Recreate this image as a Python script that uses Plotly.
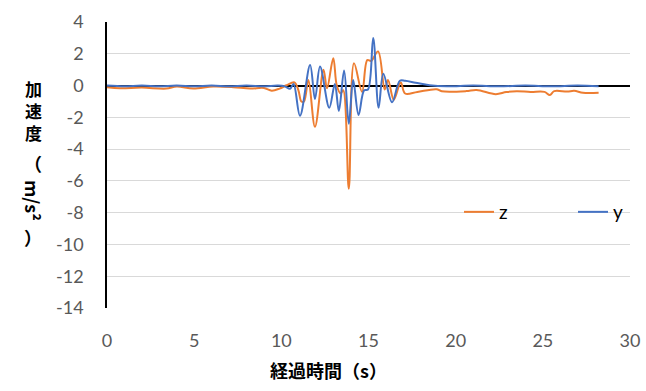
import plotly.graph_objects as go

# Time (s) and acceleration (m/s^2)
t_z = [0, 0.75, 2.0, 3.4, 4.0, 4.95, 6.1, 7.25, 8.2, 9.0, 9.45, 9.9, 10.3, 10.75, 10.98,
       11.15, 11.3, 11.55, 11.93, 12.42, 12.62, 12.98, 13.18, 13.4, 13.55, 13.87, 14.17,
       14.63, 14.93, 15.15, 15.55, 15.93, 16.12, 16.45, 16.85, 17.1, 17.8, 18.9, 19.2,
       20.6, 21.2, 22.3, 22.9, 23.5, 24.3, 25.1, 25.4, 25.65, 26.4, 26.8, 27.3, 28.2]
z_vals = [-0.1, -0.17, -0.13, -0.19, -0.06, -0.19, -0.06, -0.1, -0.19, -0.15, -0.32, -0.19,
          0.02, 0.2, -0.3, -1.0, -1.0, 0.35, -2.6, 1.0, -0.17, 1.72, 0.0, -0.5, -0.3, -6.5,
          1.4, -0.4, 1.6, 1.55, 2.15, -0.25, 0.35, -0.9, 0.2, -0.5, -0.4, -0.23, -0.36,
          -0.35, -0.28, -0.54, -0.41, -0.36, -0.4, -0.4, -0.6, -0.35, -0.38, -0.33, -0.45, -0.45]

t_y = [0, 1, 2, 3, 4, 5, 6, 7, 8, 9, 9.8, 10.2, 10.5, 10.7, 11.07, 11.65, 11.93, 12.22,
       12.75, 13.07, 13.3, 13.6, 13.87, 14.12, 14.43, 14.75, 14.97, 15.27, 15.58, 15.85,
       16.35, 16.8, 17.1, 17.7, 18.5, 19.5, 21, 22.5, 24, 25.5, 27, 28.2]
y_vals = [0, -0.05, 0, -0.05, 0, -0.05, 0, -0.05, 0, -0.05, 0, -0.05, -0.2, 0.1, -1.9, 1.3,
          -0.85, 1.2, -1.4, 0.1, -1.6, 0.95, -2.4, 0.35, -1.85, -0.3, -0.25, 3.0, -1.4, 0.75,
          -1.05, 0.3, 0.3, 0.18, 0.02, -0.05, 0, -0.05, 0, -0.05, 0, -0.05]

x_ticks = [0, 5, 10, 15, 20, 25, 30]
x_tick_labels = ["0", "5", "10", "15", "20", "25", "30"]
y_ticks = [4, 2, 0, -2, -4, -6, -8, -10, -12, -14]
y_tick_labels = ["4", "2", "0", "-2", "-4", "-6", "-8", "-10", "-12", "-14"]

fig = go.Figure()
fig.add_trace(go.Scatter(x=t_z, y=z_vals, name="z", mode="lines",
                         line=dict(color="#ED7D31", width=2, shape="spline", smoothing=1.0)))
fig.add_trace(go.Scatter(x=t_y, y=y_vals, name="y", mode="lines",
                         line=dict(color="#4472C4", width=2, shape="spline", smoothing=1.0)))

tick_font = dict(family="Lato, Open Sans, sans-serif", size=18, color="#595959")
cjk = "Noto Sans CJK JP, sans-serif"

L, R, T, B = 107, 16, 22, 83
PW, PH = 646 - L - R, 391 - T - B


def px(xp):
    return (xp - L) / PW


def py(yp):
    return (391 - B - yp) / PH


def label(text, xp, yp, angle=0, size=18):
    return dict(text=text, xref="paper", yref="paper", x=px(xp), y=py(yp),
                xanchor="center", yanchor="middle", showarrow=False, textangle=angle,
                font=dict(family=cjk, size=size, color="black"))


fig.update_layout(
    width=646, height=391,
    margin=dict(l=L, r=R, t=T, b=B, autoexpand=False),
    paper_bgcolor="white", plot_bgcolor="white",
    showlegend=True,
    legend=dict(orientation="h", x=px(459), y=py(212), xanchor="left", yanchor="middle",
                bgcolor="rgba(0,0,0,0)", entrywidth=69, entrywidthmode="pixels",
                font=dict(family="Lato, sans-serif", size=19, color="black"),
                itemwidth=30),
    xaxis=dict(range=[0, 30], tickvals=x_ticks, ticktext=x_tick_labels, showgrid=False,
               zeroline=False, showline=False, ticks="", tickfont=tick_font,
               ticklabelstandoff=20, fixedrange=True, automargin=False),
    yaxis=dict(range=[-14, 4], tickvals=y_ticks, ticktext=y_tick_labels, showgrid=True,
               gridcolor="#d9d9d9", gridwidth=1, zeroline=True, zerolinecolor="black",
               zerolinewidth=2, showline=True, linecolor="black", linewidth=1.5, ticks="",
               tickfont=tick_font, ticklabelstandoff=18, fixedrange=True, automargin=False),
    annotations=[
        label("<b>経過時間（s）</b>", 328, 370),
        label("<b>加<br>速<br>度</b>", 33, 111, size=17),
        label("<b>（</b>", 33, 163),
        label("<b>m/s²</b>", 33, 200, angle=90),
        label("<b>）</b>", 33, 237),
    ],
)

fig.write_html("out.html", config={"displayModeBar": False},
               post_script="document.body.style.margin='0';")
